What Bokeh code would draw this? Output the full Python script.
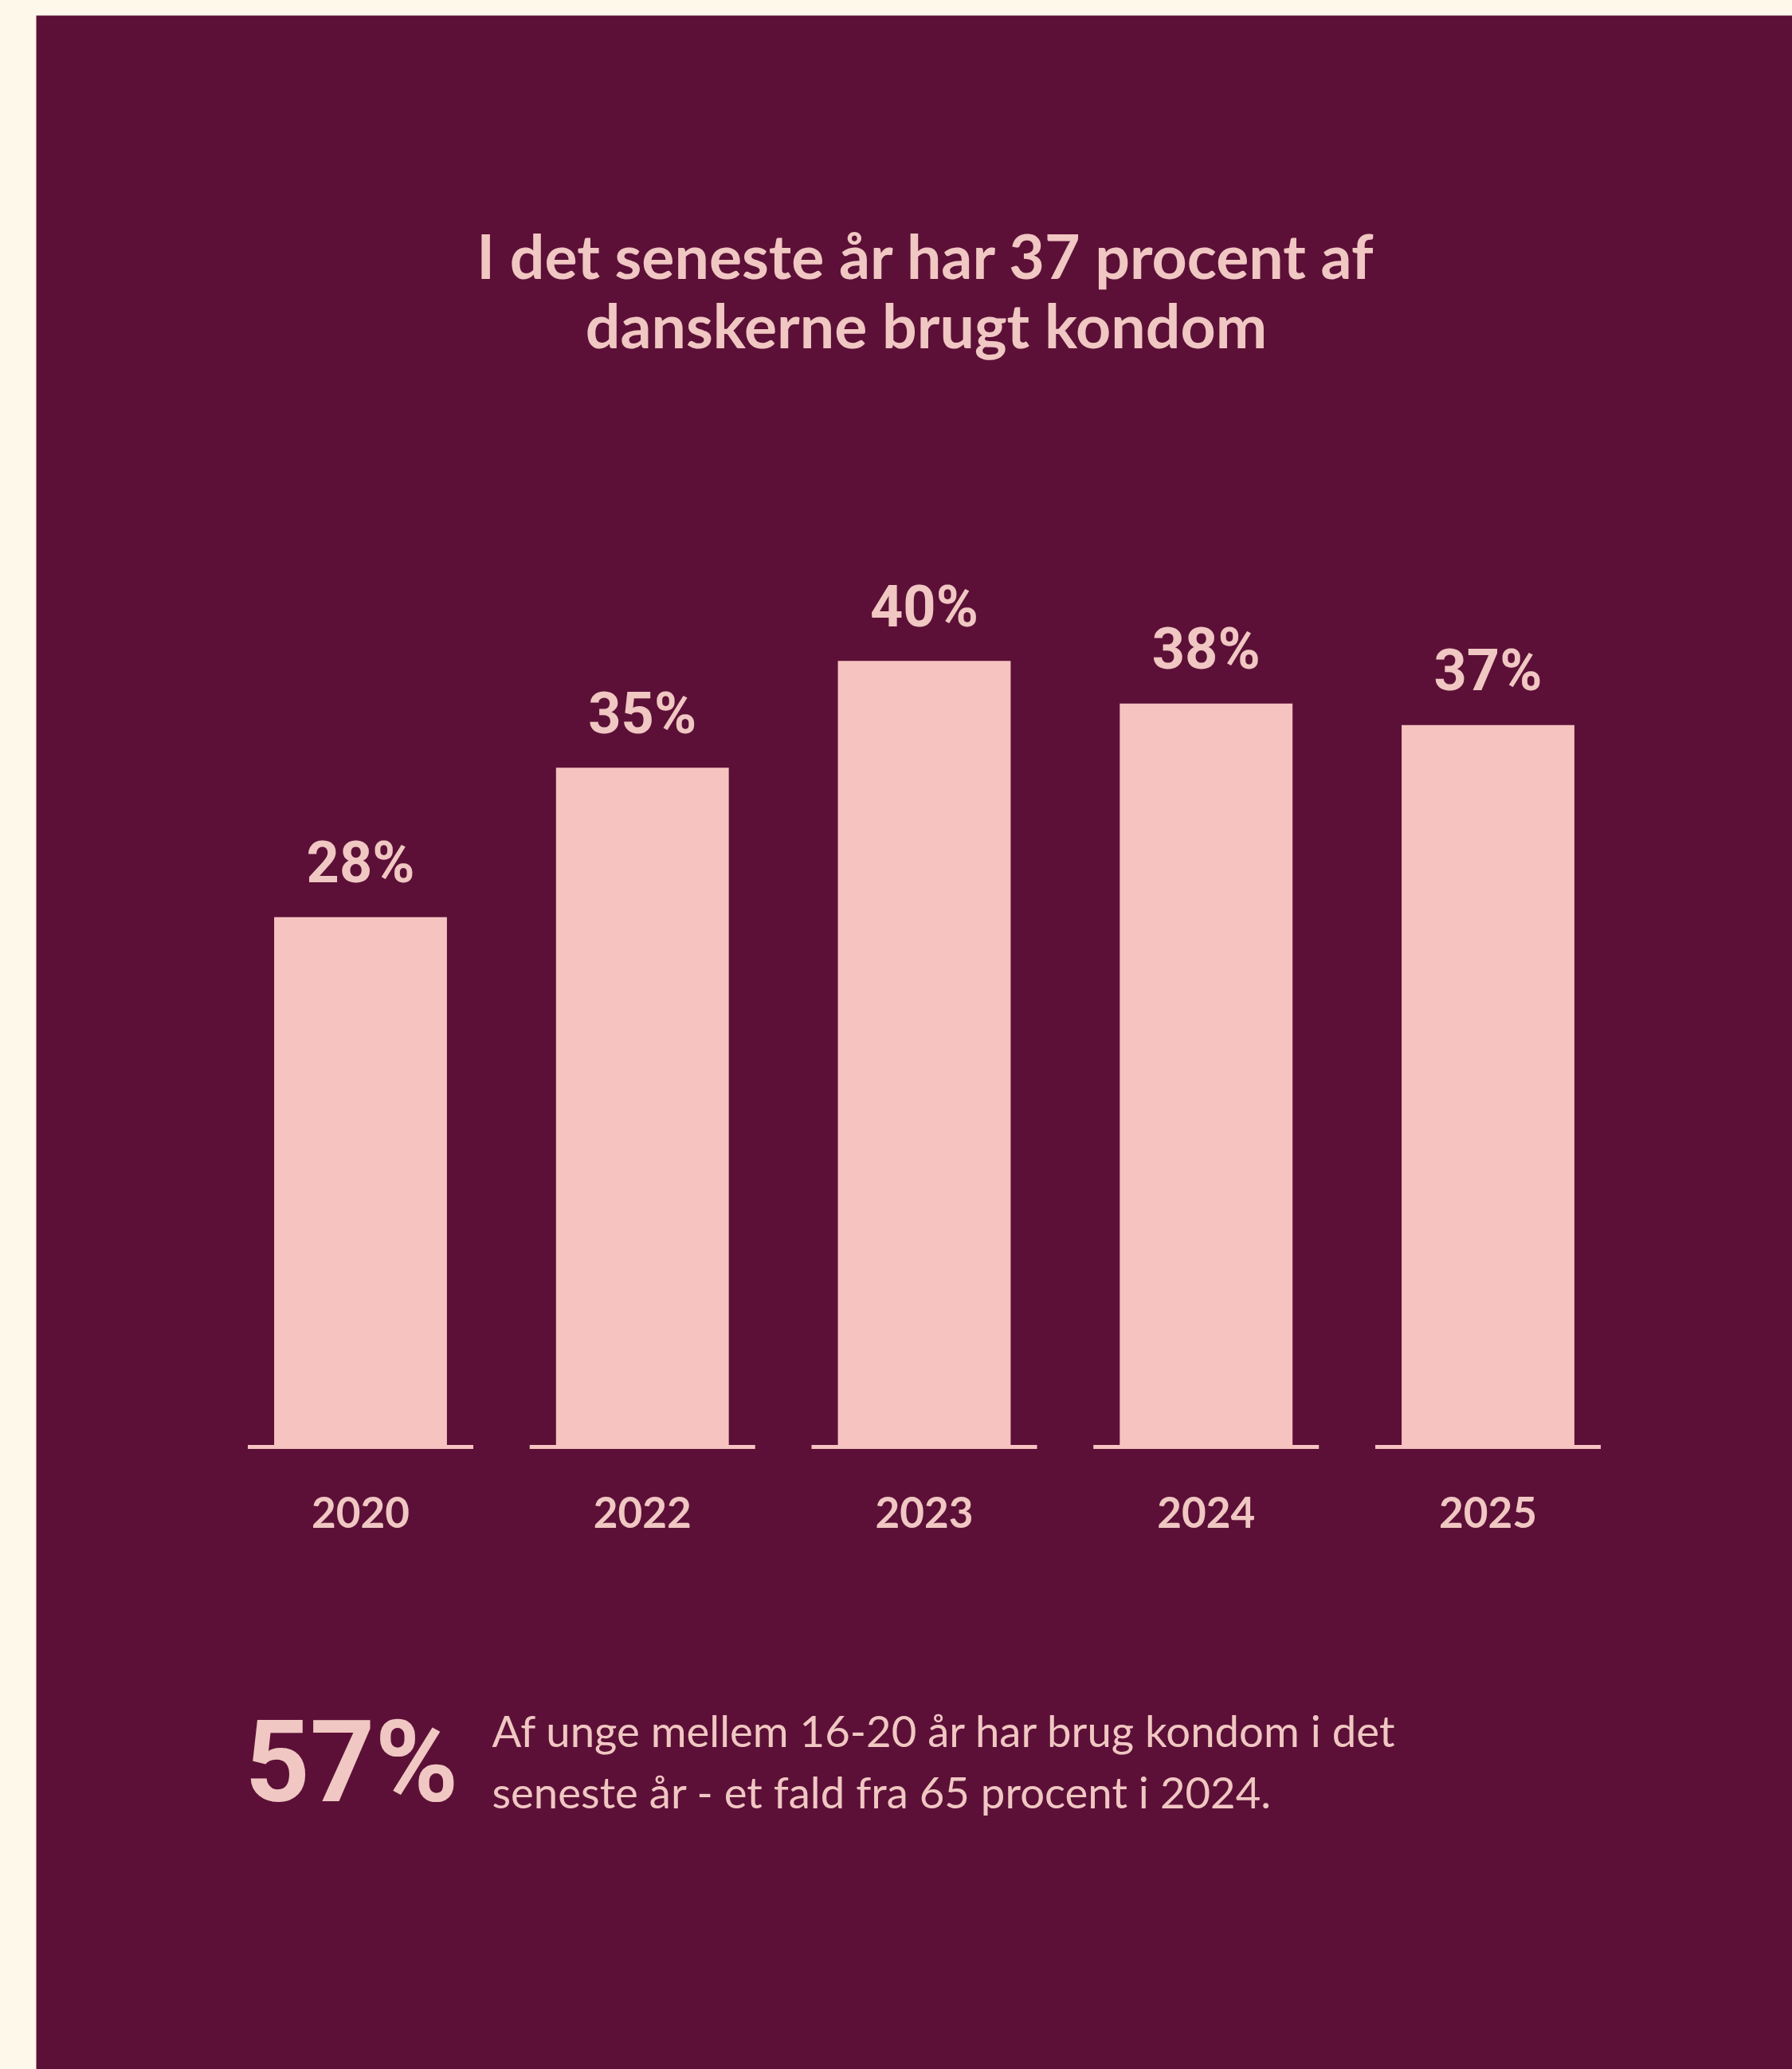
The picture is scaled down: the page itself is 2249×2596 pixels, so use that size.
from bokeh.plotting import figure
from bokeh.models import ColumnDataSource, Range1d, Label, GlobalInlineStyleSheet
from bokeh.core.properties import value
from bokeh.embed import file_html
from bokeh.resources import INLINE

# ---- data ----
years = ["2020", "2022", "2023", "2024", "2025"]
shares = [28, 35, 40, 38, 37]
share_labels = [f"{v}%" for v in shares]
title_lines = ["I det seneste år har 37 procent af", "danskerne brugt kondom"]
big_number = "57%"
note_lines = ["Af unge mellem 16-20 år har brug kondom i det",
              "seneste år - et fald fra 65 procent i 2024."]

# ---- style ----
CREAM = "#FEF8EB"
DARK = "#5C1037"
BAR = "#F6C3C0"
TXT = "#F0C7C2"
NUM_FONT = "Roboto"

W, H = 2204, 2577
BASE = 3.2          # value at the baseline
PX_PER_UNIT = 26.8
BASE_PX = 781       # baseline height from bottom of figure
y0 = BASE - BASE_PX / PX_PER_UNIT
y1 = y0 + H / PX_PER_UNIT

xs = list(range(len(years)))
src = ColumnDataSource(dict(
    x=xs, top=shares, year=years, lab=share_labels,
    xl=[i - 0.4 for i in xs], xr=[i + 0.4 for i in xs],
))

p = figure(width=W, height=H, output_backend="svg", toolbar_location=None,
           x_range=Range1d(-1.1505, 5.0799), y_range=Range1d(y0, y1),
           x_axis_location=None, y_axis_location=None, min_border=0,
           background_fill_color=DARK, border_fill_color=DARK,
           outline_line_color=None)
p.xgrid.visible = False
p.ygrid.visible = False

p.vbar(x="x", top="top", bottom=BASE, width=0.613, source=src,
       fill_color=BAR, line_color=None)
p.segment(x0="xl", x1="xr", y0=BASE, y1=BASE, source=src,
          line_color=BAR, line_width=5)

p.text(x="x", y="top", text="lab", source=src, y_offset=-68,
       text_align="center", text_baseline="alphabetic",
       text_font=value(NUM_FONT), text_font_style="bold",
       text_font_size="72px", text_color=TXT)

p.text(x="x", y=BASE, text="year", source=src, y_offset=82,
       text_align="center", text_baseline="alphabetic",
       text_font=value("Lato"), text_font_style="bold",
       text_font_size="53px", text_color=TXT)

for line, yy in zip(title_lines, [2277, 2190]):
    p.add_layout(Label(x=1117, y=yy, x_units="screen", y_units="screen",
                       text=line, text_align="center", text_baseline="alphabetic",
                       text_font="Lato", text_font_style="bold",
                       text_font_size="77px", text_color=TXT))

p.add_layout(Label(x=262, y=385, x_units="screen", y_units="screen",
                   text=big_number, text_align="left", text_baseline="alphabetic",
                   text_font=NUM_FONT, text_font_style="bold",
                   text_font_size="142px", text_color=TXT))

for line, yy in zip(note_lines, [426, 349]):
    p.add_layout(Label(x=572, y=yy, x_units="screen", y_units="screen",
                       text=line, text_align="left", text_baseline="alphabetic",
                       text_font="Lato", text_font_size="54.5px", text_color=TXT))

p.stylesheets = [GlobalInlineStyleSheet(css=(
    f"html,body{{margin:0;padding:0;background:{CREAM};overflow:hidden;}}"
    "body{padding:19px 0 0 45px;}"))]

open("out.html", "w").write(file_html(p, INLINE))
